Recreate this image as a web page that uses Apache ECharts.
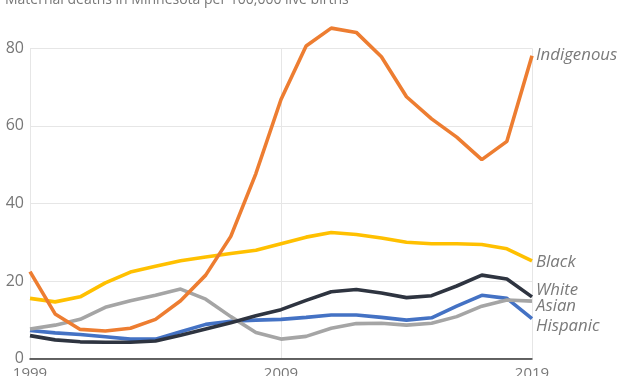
<!DOCTYPE html>
<html>
<head>
<meta charset="utf-8">
<script src="https://cdn.jsdelivr.net/npm/echarts@6/dist/echarts.min.js"></script>
<style>html,body{margin:0;padding:0;background:#fff}#c{width:627px;height:376px}</style>
</head>
<body>
<div id="c"></div>
<script>
const title = "Maternal deaths in Minnesota per 100,000 live births";
const years = ["1999","2000","2001","2002","2003","2004","2005","2006","2007","2008","2009","2010","2011","2012","2013","2014","2015","2016","2017","2018","2019"];
const indigenous = [22.4,11.5,7.5,7.1,7.8,10.1,14.9,21.5,31.5,47.7,66.8,80.6,85.2,84.1,77.8,67.5,61.8,57.1,51.3,56.0,78.1];
const black = [15.5,14.6,15.9,19.5,22.3,23.8,25.2,26.2,27.1,27.9,29.6,31.3,32.5,32.0,31.1,30.0,29.6,29.6,29.4,28.3,25.2];
const white = [5.9,4.8,4.3,4.2,4.2,4.5,6.0,7.6,9.2,11.0,12.6,15.0,17.2,17.8,16.9,15.7,16.2,18.7,21.5,20.5,15.9];
const asian = [7.6,8.6,10.1,13.2,14.9,16.3,17.9,15.3,10.8,6.7,5.0,5.7,7.8,9.0,9.1,8.6,9.1,10.8,13.5,15.1,14.8];
const hispanic = [7.2,6.6,6.2,5.6,5.0,5.0,6.9,8.8,9.6,9.9,10.1,10.6,11.2,11.2,10.6,9.9,10.5,13.5,16.3,15.5,10.3];
const yTicks = [0,20,40,60,80];

const font = "'Open Sans', 'DejaVu Sans', sans-serif";
function mk(name, data, color, offY, z) {
  return {
    name, type: 'line', data, symbol: 'none', z, clip: false,
    lineStyle: { color, width: 3.6 },
    itemStyle: { color },
    endLabel: {
      show: true, formatter: name, fontStyle: 'italic', fontSize: 16.8,
      fontFamily: font, color: '#7a7a7a', distance: 4, offset: [0, offY]
    }
  };
}
const chart = echarts.init(document.getElementById('c'));
chart.setOption({
  animation: false,
  title: { text: title, left: 0, top: -12, textStyle: { fontSize: 14, fontWeight: 'normal', color: '#777', fontFamily: font } },
  grid: { left: 30, right: 95, top: 48.3, bottom: 17.5, containLabel: false, outerBoundsMode: 'none' },
  xAxis: {
    type: 'category', data: years, boundaryGap: false,
    axisLine: { lineStyle: { color: '#333', width: 1.5 } },
    axisTick: { show: false },
    axisLabel: { interval: 9, color: '#777', fontSize: 15, fontFamily: font, margin: 8 },
    splitLine: { show: true, interval: 9, lineStyle: { color: '#e6e6e6', width: 1 } }
  },
  yAxis: {
    type: 'value', min: yTicks[0], max: yTicks[yTicks.length-1], interval: 20,
    axisLine: { show: false }, axisTick: { show: false },
    axisLabel: { color: '#777', fontSize: 16, fontFamily: font, margin: 6 },
    splitLine: { lineStyle: { color: '#e6e6e6', width: 1.2 } }
  },
  series: [
    mk('Hispanic', hispanic, '#4472C4', 8, 2),
    mk('Asian', asian, '#A5A5A5', 5, 3),
    mk('White', white, '#2E3440', -7, 4),
    mk('Black', black, '#FFC000', 1, 5),
    mk('Indigenous', indigenous, '#ED7D31', 0, 6)
  ]
});
</script>
</body>
</html>
